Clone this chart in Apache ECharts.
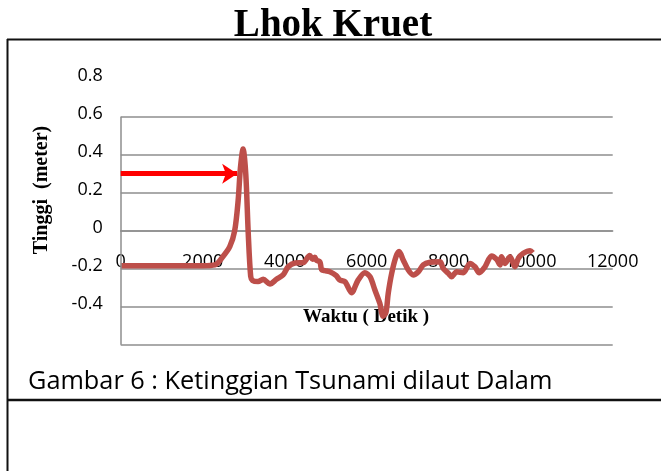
<!DOCTYPE html>
<html>
<head>
<meta charset="utf-8">
<title>Lhok Kruet</title>
<script src="https://cdn.jsdelivr.net/npm/echarts@6/dist/echarts.min.js"></script>
<style>
    html, body { margin: 0; padding: 0; background: #fff; }
    #chartsmain { width: 661px; height: 471px; }
</style>
</head>
<body>
<div id="chartsmain"></div>

<script>
    // waktu (detik) dan tinggi (meter)
    var waktu = [0, 1000, 2000, 2300, 2490, 2660, 2780, 2865, 2920, 2985, 3050, 3110, 3170, 3215,
        3350, 3475, 3640, 3800, 3960, 4085, 4250, 4450, 4610, 4680, 4735, 4775, 4860, 4900, 4980,
        5100, 5250, 5345, 5470, 5630, 5790, 5955, 6080, 6200, 6320, 6400, 6470, 6525, 6610, 6715,
        6790, 6890, 7015, 7135, 7260, 7380, 7545, 7785, 7865, 7990, 8070, 8195, 8355, 8520, 8640,
        8745, 8885, 9045, 9170, 9250, 9290, 9370, 9495, 9615, 9700, 9820, 9985, 10050];
    var tinggi = [-0.184, -0.184, -0.184, -0.18, -0.137, -0.084, 0, 0.16, 0.33, 0.43, 0.3, -0.01, -0.24, -0.262,
        -0.268, -0.256, -0.28, -0.256, -0.233, -0.19, -0.17, -0.168, -0.13, -0.15, -0.14, -0.155, -0.165, -0.205, -0.21,
        -0.216, -0.235, -0.26, -0.268, -0.326, -0.26, -0.221, -0.242, -0.312, -0.382, -0.45, -0.43, -0.33, -0.224, -0.137,
        -0.11, -0.154, -0.207, -0.233, -0.216, -0.18, -0.166, -0.163, -0.198, -0.224, -0.242, -0.216, -0.221, -0.172, -0.19,
        -0.221, -0.19, -0.133, -0.151, -0.18, -0.137, -0.172, -0.137, -0.19, -0.145, -0.119, -0.105, -0.116];
    var xTicks = [0, 12000, 2000];     // min, max, interval
    var yTicks = [-0.6, 0.8, 0.2];
    var panah = [[0, 0.3], [2840, 0.3]];  // panah merah

    var seri = [];
    for (var i = 0; i < waktu.length; i++) {
        seri.push([waktu[i], tinggi[i]]);
    }

    var gridTop = 78.7, gridBottom = 126.3;
    var gridH = 471 - gridTop - gridBottom;
    // sumbu x memotong di y = 0 (onZero tidak jalan, jadi pakai offset)
    var xOffset = -gridH * (0 - yTicks[0]) / (yTicks[1] - yTicks[0]);

    var gridColor = '#8e8e8e';
    var chart = echarts.init(document.getElementById('chartsmain'));

    var option = {
        animation: false,
        backgroundColor: '#fff',
        grid: { left: 120.7, right: 48.3, top: gridTop, bottom: gridBottom },
        xAxis: {
            type: 'value',
            min: xTicks[0], max: xTicks[1], interval: xTicks[2],
            offset: xOffset,
            axisLine: { show: true, onZero: false, lineStyle: { color: gridColor, width: 1.5 } },
            axisTick: { show: false },
            splitLine: { show: false },
            axisLabel: {
                color: '#000', fontFamily: 'Open Sans', fontSize: 18, margin: 22,
                formatter: function (v) { return String(v); }
            }
        },
        yAxis: {
            type: 'value',
            min: yTicks[0], max: yTicks[1], interval: yTicks[2],
            axisLine: { show: false },
            axisTick: { show: false },
            splitLine: {
                show: true,
                lineStyle: {
                    width: 1.5,
                    color: [gridColor, gridColor, gridColor, gridColor, gridColor, gridColor, gridColor, 'rgba(0,0,0,0)']
                }
            },
            axisLabel: {
                color: '#000', fontFamily: 'Open Sans', fontSize: 18, margin: 18,
                verticalAlign: 'bottom', lineHeight: 5,
                formatter: function (v) {
                    if (Math.abs(v + 0.6) < 1e-9) return '';
                    return String(Math.round(v * 10) / 10);
                }
            }
        },
        series: [{
            type: 'line',
            data: seri,
            smooth: 0.3,
            symbol: 'none',
            lineStyle: { color: '#bd4f4a', width: 5.5 },
            z: 3,
            markLine: {
                silent: true,
                animation: false,
                label: { show: false },
                data: [
                    [
                        { coord: [0, yTicks[0]], symbol: 'none', lineStyle: { color: gridColor, width: 1.5, type: 'solid' } },
                        { coord: [0, 0.6], symbol: 'none' }
                    ],
                    [
                        { coord: panah[0], symbol: 'none', lineStyle: { color: '#ff0000', width: 5, type: 'solid' } },
                        { coord: panah[1], symbol: 'arrow', symbolSize: [15, 15] }
                    ]
                ]
            }
        }],
        graphic: [
            { type: 'line', shape: { x1: 7, y1: 39.5, x2: 661, y2: 39.5 }, style: { stroke: '#111', lineWidth: 2 } },
            { type: 'line', shape: { x1: 7.5, y1: 39, x2: 7.5, y2: 471 }, style: { stroke: '#111', lineWidth: 2 } },
            { type: 'line', shape: { x1: 7, y1: 400, x2: 661, y2: 400 }, style: { stroke: '#111', lineWidth: 2.5 } },
            {
                type: 'text', x: 333, y: 26,
                style: { text: 'Lhok Kruet', fill: '#000', font: 'bold 39px "Liberation Serif"', align: 'center', verticalAlign: 'middle' }
            },
            {
                type: 'text', x: 42, y: 190, rotation: Math.PI / 2,
                style: { text: 'Tinggi  (meter)', fill: '#000', font: 'bold 20px "Liberation Serif"', align: 'center', verticalAlign: 'middle' }
            },
            {
                type: 'text', x: 366, y: 317,
                style: { text: 'Waktu ( Detik )', fill: '#000', font: 'bold 19px "Liberation Serif"', align: 'center', verticalAlign: 'middle' }
            },
            {
                type: 'text', x: 28, y: 382,
                style: { text: 'Gambar 6 : Ketinggian Tsunami dilaut Dalam', fill: '#000', font: '25.3px "Open Sans"', align: 'left', verticalAlign: 'middle' }
            }
        ]
    };
    chart.setOption(option);
</script>
</body>
</html>
